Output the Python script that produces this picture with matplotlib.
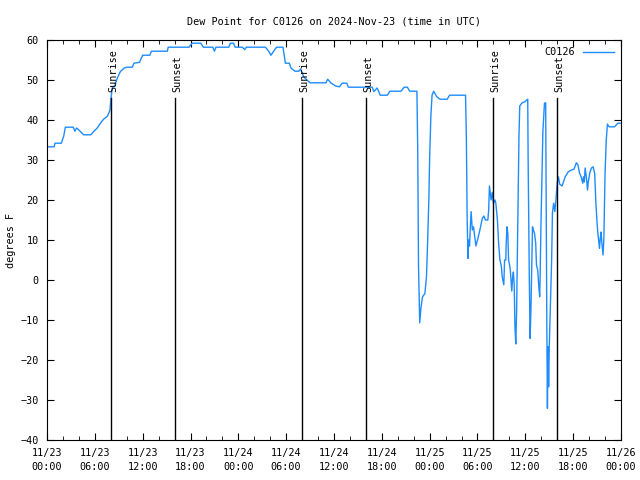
import matplotlib
matplotlib.use("Agg")
import matplotlib.pyplot as plt
import numpy as np

# hours since 2024-11-23 00:00 UTC, dew point in F
hours = [0.0, 0.9, 1.0, 1.8, 2.1, 2.3, 3.3, 3.5, 3.7, 4.0, 4.6, 5.5, 5.9, 6.3, 6.7, 7.1,
         7.6, 7.9, 8.0, 8.2, 8.5, 8.8, 9.2, 9.7, 10.1, 10.7, 10.9, 11.6, 12.0, 12.9, 13.1,
         15.1, 15.2, 17.8, 18.2, 19.3, 19.6, 20.8, 21.0, 21.2, 22.8, 23.0, 23.4, 23.6, 24.5,
         24.8, 25.0, 27.4, 27.8, 28.1, 28.5, 28.8, 29.6, 29.9, 30.4, 30.6, 31.1, 31.6, 31.8,
         32.2, 32.6, 33.0, 35.0, 35.2, 35.6, 36.2, 36.7, 37.0, 37.6, 37.8, 40.8, 41.0, 41.4,
         41.6, 41.8, 42.7, 43.0, 44.4, 44.8, 45.2, 45.5, 46.4, 46.5, 46.6, 46.75, 46.9, 47.1,
         47.4, 47.6, 47.75, 47.9, 48.0, 48.15, 48.3, 48.5, 48.9, 49.3, 50.2, 50.5, 52.5, 52.6,
         52.7, 52.8, 52.9, 53.0, 53.1, 53.2, 53.35, 53.5, 53.8, 54.0, 54.3, 54.6, 54.8, 55.0,
         55.3, 55.4, 55.5, 55.7, 55.85, 56.0, 56.2, 56.3, 56.5, 56.65, 56.8, 57.0, 57.1, 57.3,
         57.4, 57.55, 57.6, 57.7, 57.8, 57.9, 58.1, 58.3, 58.4, 58.5, 58.6, 58.7, 58.8, 58.9,
         59.0, 59.1, 59.2, 59.3, 59.6, 59.9, 60.3, 60.35, 60.5, 60.6, 60.7, 60.8, 60.9, 61.0,
         61.15, 61.3, 61.4, 61.55, 61.7, 61.8, 61.85, 61.95, 62.2, 62.4, 62.55, 62.6, 62.7,
         62.77, 62.85, 62.92, 63.0, 63.15, 63.3, 63.4, 63.55, 63.7, 63.85, 64.0, 64.15, 64.3,
         64.6, 64.8, 65.0, 65.4, 65.8, 66.1, 66.4, 66.6, 66.8, 67.0, 67.2, 67.3, 67.4, 67.5,
         67.65, 67.8, 67.9, 68.1, 68.3, 68.5, 68.7, 68.85, 69.0, 69.1, 69.3, 69.4, 69.5, 69.6,
         69.75, 69.85, 70.0, 70.15, 70.3, 70.5, 71.2, 71.6, 71.9]
dewpoint = [33.3, 33.3, 34.2, 34.2, 36.0, 38.2, 38.2, 37.2, 38.0, 37.5, 36.3, 36.3, 37.2, 38.0,
            39.2, 40.2, 41.0, 42.5, 45.0, 48.2, 48.5, 50.4, 52.1, 53.0, 53.2, 53.2, 54.2, 54.4,
            56.2, 56.2, 57.2, 57.2, 58.2, 58.2, 59.2, 59.2, 58.2, 58.2, 57.2, 58.2, 58.2, 59.2,
            59.2, 58.2, 58.2, 57.6, 58.2, 58.2, 57.2, 56.2, 57.4, 58.2, 58.2, 54.2, 54.2, 53.0,
            52.2, 52.2, 52.8, 50.8, 50.0, 49.3, 49.3, 50.2, 49.3, 48.5, 48.3, 49.2, 49.2, 48.2,
            48.2, 47.1, 48.0, 47.2, 46.2, 46.2, 47.2, 47.2, 48.2, 48.2, 47.2, 47.2, 33.0, 3.8,
            -10.7, -7.1, -4.2, -3.4, 0.8, 10.0, 20.4, 30.8, 41.0, 46.2, 47.2, 45.8, 45.2, 45.2,
            46.2, 46.2, 36.0, 15.8, 5.4, 10.0, 8.5, 13.3, 17.1, 12.5, 13.3, 8.5, 10.0, 12.5, 15.4,
            16.0, 15.0, 15.0, 17.5, 23.5, 20.0, 21.9, 19.2, 20.0, 19.2, 15.0, 9.2, 5.2, 3.3, 0.8,
            -1.2, 5.0, 5.0, 9.2, 13.3, 11.7, 5.0, 2.9, -2.75, 0.5, 2.0, -1.0, -11.7, -16.0, -8.3,
            5.8, 21.2, 35.8, 43.5, 44.3, 44.5, 45.2, 30.4, 0.4, -14.6, -7.5, 2.5, 13.3, 12.5, 11.7,
            9.2, 3.75, 2.5, -1.9, -4.2, 0.0, 12.7, 37.1, 44.2, 44.3, 24.2, -12.9, -32.1, -16.7,
            -26.7, -16.7, -6.25, 5.0, 16.8, 19.2, 17.1, 20.4, 24.2, 25.8, 24.0, 23.5, 24.6, 25.8,
            27.1, 27.5, 27.7, 29.3, 28.8, 26.7, 25.8, 24.2, 25.8, 24.5, 28.0, 25.8, 22.5, 24.6,
            26.9, 28.0, 28.3, 26.7, 19.2, 14.2, 11.7, 7.9, 10.5, 12.0, 9.2, 6.25, 10.4, 26.7, 35.0,
            39.0, 38.3, 38.3, 39.2, 39.2]

sun_hours = [8, 16, 32, 40, 56, 64]
sun_labels = ["Sunrise", "Sunset", "Sunrise", "Sunset", "Sunrise", "Sunset"]

tick_hours = list(range(0, 73, 6))
tick_labels = ["11/23\n00:00", "11/23\n06:00", "11/23\n12:00", "11/23\n18:00",
               "11/24\n00:00", "11/24\n06:00", "11/24\n12:00", "11/24\n18:00",
               "11/25\n00:00", "11/25\n06:00", "11/25\n12:00", "11/25\n18:00",
               "11/26\n00:00"]

plt.rcParams['font.family'] = ['DejaVu Sans Mono']
plt.rcParams['font.size'] = 7.3

fig = plt.figure(figsize=(6.4, 4.8), dpi=100)
ax = fig.add_axes([47 / 640, 40 / 480, 574 / 640, 400 / 480])

ax.plot(hours, dewpoint, '-', color='#1e8cff', lw=1, label='C0126')

for h, lab in zip(sun_hours, sun_labels):
    ax.plot([h, h], [-40, 45.5], color='black', lw=1)
    ax.text(h + 0.3, 47, lab, rotation=90, ha='center', va='bottom')

ax.set_xlim(0, 72)
ax.set_ylim(-40, 60)
ax.set_xticks(tick_hours)
ax.set_xticklabels(tick_labels, linespacing=1.5)
ax.set_xticks(np.arange(0, 73, 2), minor=True)
ax.set_yticks(np.arange(-40, 61, 10))
ax.tick_params(which='both', direction='in', top=True, right=True, pad=6)
ax.tick_params(which='major', length=5)
ax.tick_params(which='minor', length=3)
ax.set_ylabel('degrees F', labelpad=3)
ax.set_title('Dew Point for C0126 on 2024-Nov-23 (time in UTC)', fontsize=7.3, pad=11)

ax.legend(loc='upper right', frameon=False, handlelength=3, markerfirst=False,
          borderaxespad=0.3, handletextpad=0.8)

fig.savefig('out.png', dpi=100)
